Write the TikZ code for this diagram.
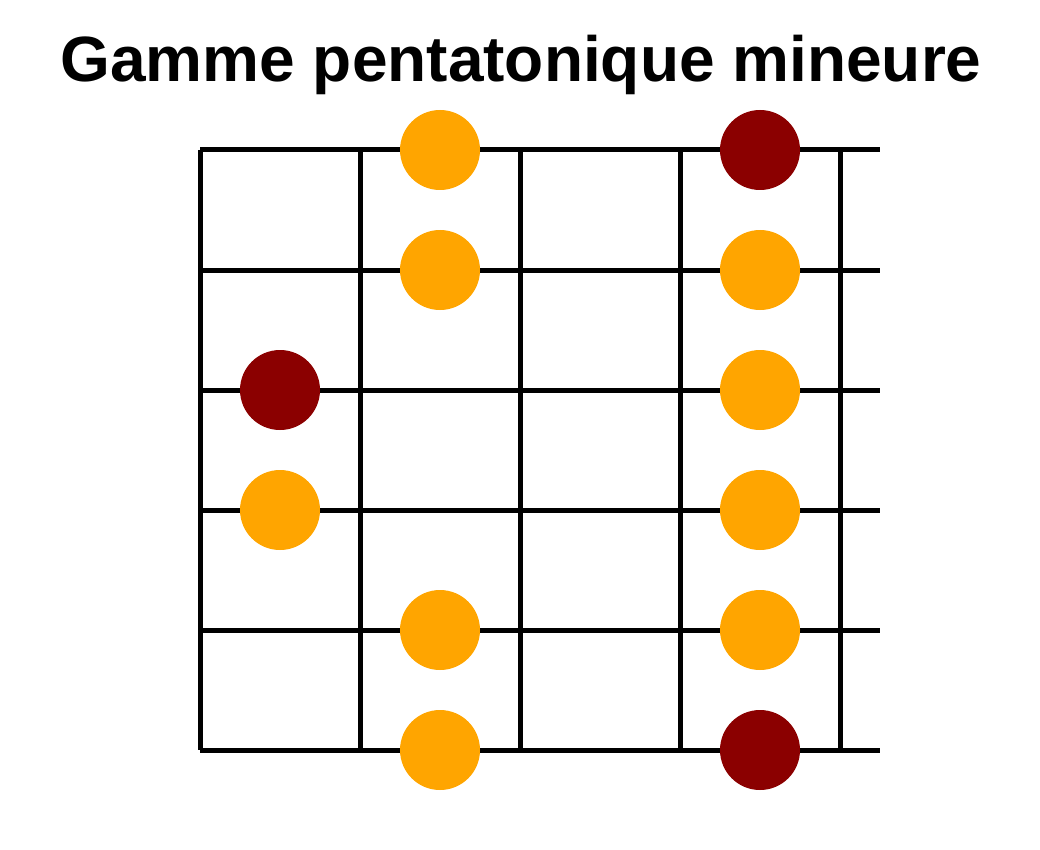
\documentclass[tikz,border=0pt]{standalone}
\usepackage{fontspec}
\setmainfont{Liberation Sans}
\definecolor{orangenote}{HTML}{FFA500}
\definecolor{rootnote}{HTML}{8B0000}
\begin{document}
\begin{tikzpicture}[x=1pt,y=-1pt,line width=5pt]
	\useasboundingbox (0,0) rectangle (1040,850);
	\node[anchor=base,font=\fontsize{64}{68}\selectfont\bfseries] (title) at (521,82) {Gamme pentatonique mineure};
	\foreach \y in {150,270,...,750}{
		\draw (200,\y) -- (880,\y);
	}
	\foreach \x in {200,360,...,840}{
		\draw (\x,150) -- (\x,750);
	}
	\foreach \x/\y in {440/150,440/270,760/270,760/390,280/510,760/510,440/630,760/630,440/750}{
		\fill[orangenote] (\x,\y) circle (40);
	}
	\foreach \x/\y in {760/150,280/390,760/750}{
		\fill[rootnote] (\x,\y) circle (40);
	}
\end{tikzpicture}
\end{document}
